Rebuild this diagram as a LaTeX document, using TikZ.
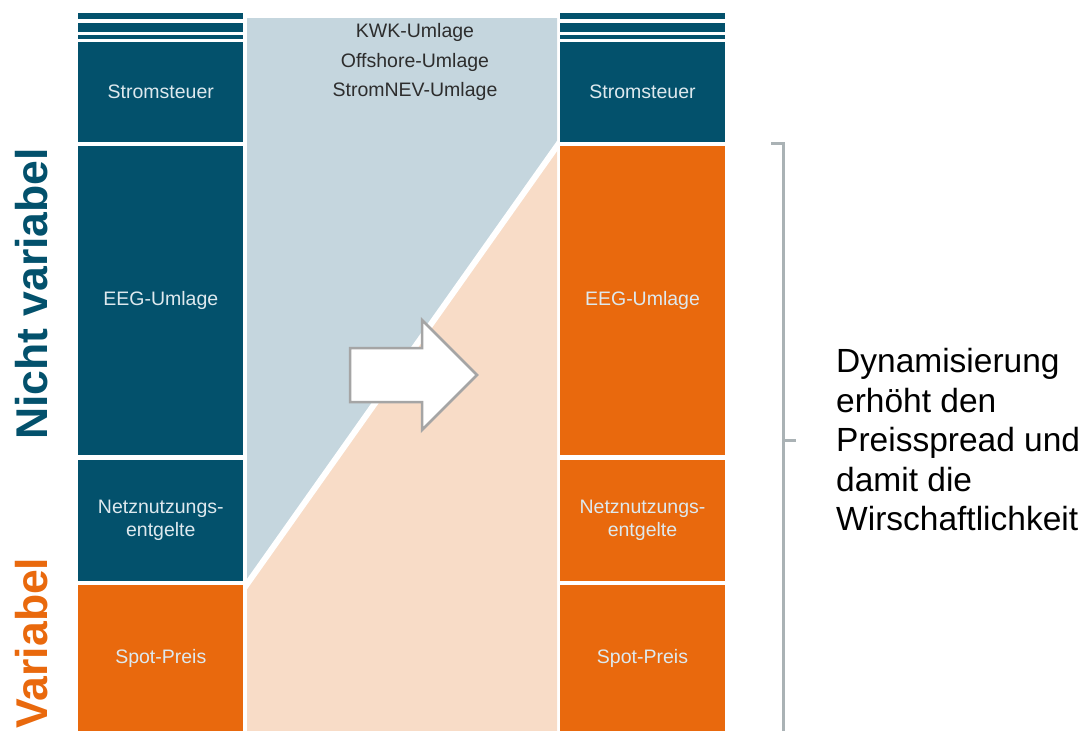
\documentclass[tikz,border=0pt]{standalone}
\usepackage{fontspec}
\setmainfont{Liberation Sans}
\definecolor{cteal}{RGB}{3,81,108}
\definecolor{corange}{RGB}{233,105,13}
\definecolor{clblue}{RGB}{197,214,222}
\definecolor{cpeach}{RGB}{248,220,199}
\definecolor{clabel}{RGB}{222,233,238}
\definecolor{cgray}{RGB}{170,178,181}
\definecolor{carrow}{RGB}{165,165,165}
\definecolor{ctext}{RGB}{45,45,45}
\begin{document}
\begin{tikzpicture}[x=1pt,y=-1pt,
  box/.style={inner sep=0pt, minimum width=165pt, text=clabel,
    font=\fontsize{19.5}{23}\selectfont, align=center},
  dbox/.style={box, fill=cteal},
  obox/.style={box, fill=corange},
  side/.style={rotate=90, anchor=base, inner sep=0pt,
    font=\fontsize{44.5}{50}\selectfont\bfseries},
  brace/.style={cgray, line width=3pt}]
\useasboundingbox (0,0) rectangle (1088,731);
% background regions
\fill[clblue] (247,18) -- (557,18) -- (557,146) -- (247,584) -- cycle;
\fill[cpeach] (247,584) -- (557,146) -- (557,731) -- (247,731) -- cycle;
\draw[white, line width=6pt] (240,594) -- (562,139);
% stripes
\foreach \xa/\xb in {78.3/243.3, 560/725} {
  \fill[cteal] (\xa,13.3) rectangle (\xb,19);
  \fill[cteal] (\xa,23.3) rectangle (\xb,31.7);
  \fill[cteal] (\xa,34.7) rectangle (\xb,39);
}
% left column
\node[dbox, minimum height=99.5pt] (l1) at (160.8,92) {Stromsteuer};
\node[dbox, minimum height=309.5pt] (l2) at (160.8,300.5) {EEG-Umlage};
\node[dbox, minimum height=121pt] (l3) at (160.8,520) {Netznutzungs-\\entgelte};
\node[obox, minimum height=146pt] (l4) at (160.8,658) {Spot-Preis};
% right column
\node[dbox, minimum height=99.5pt] (r1) at (642.5,92) {Stromsteuer};
\node[obox, minimum height=309.5pt] (r2) at (642.5,300.5) {EEG-Umlage};
\node[obox, minimum height=121pt] (r3) at (642.5,520) {Netznutzungs-\\entgelte};
\node[obox, minimum height=146pt] (r4) at (642.5,658) {Spot-Preis};
% middle labels
\node[text=ctext, font=\fontsize{19.5}{29.5}\selectfont, align=center] (umlagen) at (415,62)
  {KWK-Umlage\\Offshore-Umlage\\StromNEV-Umlage};
% arrow
\draw[carrow, fill=white, line width=2.5pt, line join=miter]
  (350,348) -- (422,348) -- (422,320) -- (477,375) -- (422,430) -- (422,402) -- (350,402) -- cycle;
% side labels
\node[side, text=cteal] (nv) at (47,294) {Nicht variabel};
\node[side, text=corange] (va) at (47,643) {Variabel};
% bracket
\coordinate (bt0) at (771,143);
\coordinate (bt) at (783,143);
\coordinate (bb) at (783,731);
\coordinate (bm) at (783,440);
\coordinate (bm2) at (796,440);
\draw[brace] (bt0) -- (bt) -- (bb);
\draw[brace] (bm) -- (bm2);
% explanation
\node[anchor=west, inner sep=0pt, text=black, align=left,
  font=\fontsize{33.5}{39.5}\selectfont] (expl) at (836,440)
  {Dynamisierung\\erhöht den\\Preisspread und\\damit die\\Wirschaftlichkeit};
\end{tikzpicture}
\end{document}
